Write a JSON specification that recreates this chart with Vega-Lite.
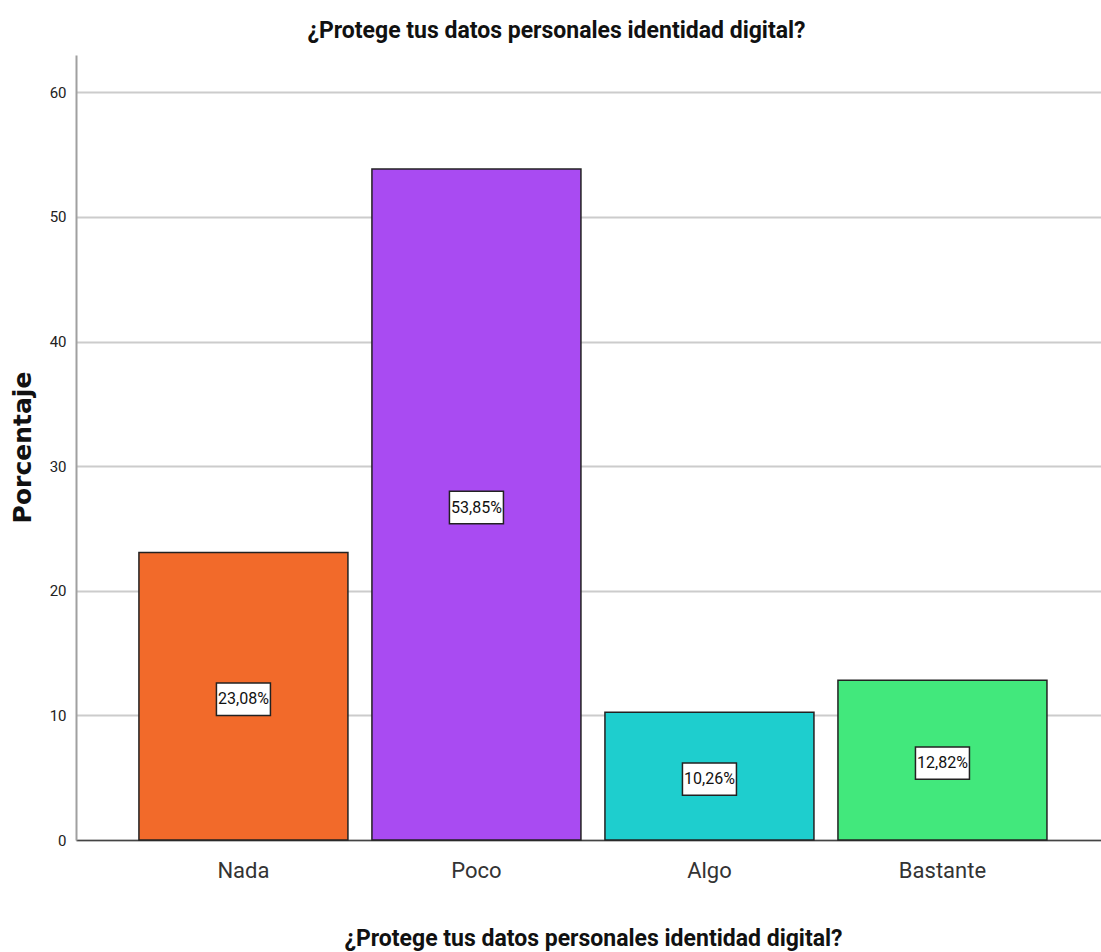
{
  "$schema": "https://vega.github.io/schema/vega-lite/v6.json",
  "width": 1025,
  "height": 785,
  "autosize": {"type": "none"},
  "padding": {"left": 76, "top": 55, "right": 0, "bottom": 112},
  "background": "white",
  "title": {
    "text": "¿Protege tus datos personales identidad digital?",
    "font": "Roboto",
    "fontSize": 23,
    "fontWeight": "bold",
    "color": "#111111",
    "anchor": "middle",
    "frame": "group",
    "baseline": "alphabetic",
    "offset": -6,
    "dx": -32
  },
  "data": {
    "values": [
      {"categoria": "Nada", "porcentaje": 23.08, "etiqueta": "23,08%"},
      {"categoria": "Poco", "porcentaje": 53.85, "etiqueta": "53,85%"},
      {"categoria": "Algo", "porcentaje": 10.26, "etiqueta": "10,26%"},
      {"categoria": "Bastante", "porcentaje": 12.82, "etiqueta": "12,82%"}
    ]
  },
  "config": {
    "view": {"stroke": null},
    "axis": {"labelFont": "Roboto", "titleFont": "Roboto"}
  },
  "encoding": {
    "x": {
      "field": "categoria",
      "type": "nominal",
      "sort": ["Nada", "Poco", "Algo", "Bastante"],
      "scale": {"paddingInner": 0.103, "paddingOuter": 0.251, "align": 0.538},
      "axis": {
        "title": "¿Protege tus datos personales identidad digital?",
        "titleFontSize": 23,
        "titleFontWeight": "bold",
        "titleColor": "#111111",
        "titleX": 517,
        "titleY": 105,
        "titleBaseline": "alphabetic",
        "titleAlign": "center",
        "labelAngle": 0,
        "labelFontSize": 22,
        "labelColor": "#333333",
        "labelPadding": 20,
        "ticks": false,
        "domainColor": "#444444",
        "domainWidth": 1.5,
        "grid": false
      }
    }
  },
  "layer": [
    {
      "mark": {"type": "bar", "stroke": "#222222", "strokeWidth": 1.5},
      "encoding": {
        "y": {
          "field": "porcentaje",
          "type": "quantitative",
          "scale": {"domain": [0, 63], "nice": false},
          "axis": {
            "title": "Porcentaje",
            "titleFont": "DejaVu Sans",
            "titleFontSize": 25,
            "titleFontWeight": "bold",
            "titleColor": "#111111",
            "titleAngle": -90,
            "titleX": -54,
            "titleY": 392,
            "titleAlign": "center",
            "titleBaseline": "middle",
            "values": [0, 10, 20, 30, 40, 50, 60],
            "labelFontSize": 15,
            "labelColor": "#222222",
            "labelPadding": 10,
            "ticks": false,
            "domainColor": "#a0a0a0",
            "domainWidth": 2,
            "grid": true,
            "gridColor": "#cccccc",
            "gridWidth": 2
          }
        },
        "color": {
          "field": "categoria",
          "type": "nominal",
          "scale": {
            "domain": ["Nada", "Poco", "Algo", "Bastante"],
            "range": ["#F26A2A", "#A94BF2", "#1ECECE", "#42E87C"]
          },
          "legend": null
        }
      }
    },
    {
      "transform": [{"calculate": "datum.porcentaje / 2", "as": "mitad"}],
      "mark": {
        "type": "point",
        "shape": "M-1,-0.6L1,-0.6L1,0.6L-1,0.6Z",
        "size": 2916,
        "filled": true,
        "fill": "white",
        "fillOpacity": 1,
        "stroke": "#222222",
        "strokeWidth": 1.5,
        "opacity": 1,
        "yOffset": 3
      },
      "encoding": {
        "y": {"field": "mitad", "type": "quantitative"}
      }
    },
    {
      "transform": [{"calculate": "datum.porcentaje / 2", "as": "mitad"}],
      "mark": {
        "type": "text",
        "font": "Roboto",
        "fontSize": 16,
        "color": "#111111",
        "baseline": "middle",
        "align": "center",
        "yOffset": 3
      },
      "encoding": {
        "y": {"field": "mitad", "type": "quantitative"},
        "text": {"field": "etiqueta"}
      }
    }
  ]
}
